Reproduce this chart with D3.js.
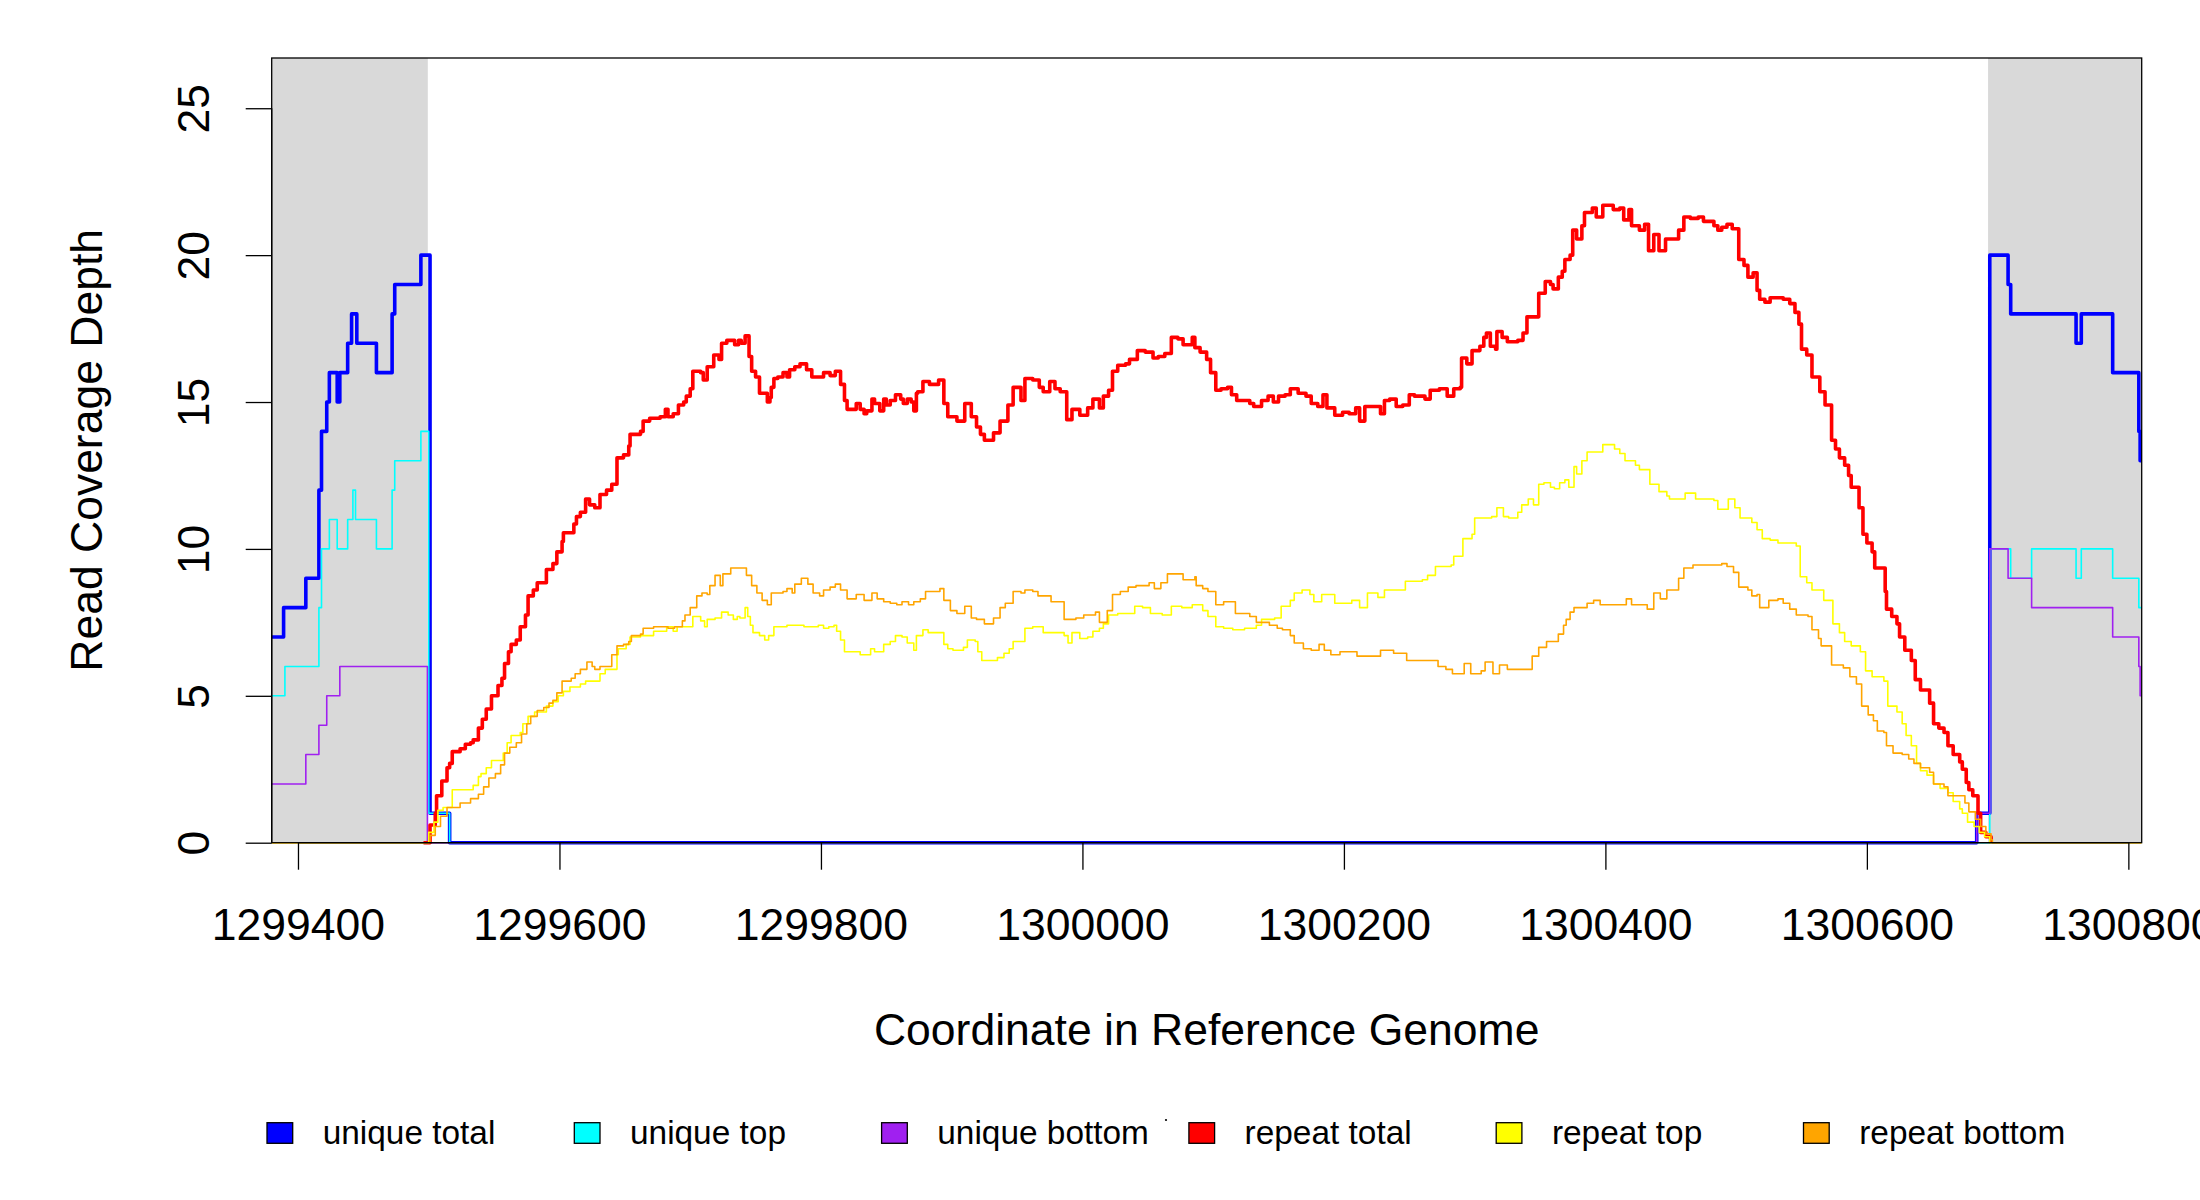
<!DOCTYPE html>
<html>
<head>
<meta charset="utf-8">
<script src="https://cdn.jsdelivr.net/npm/d3@7"></script>
<style>
  html, body { margin: 0; padding: 0; background: #ffffff; }
  svg { display: block; }
  text { font-family: "Liberation Sans", Arial, Helvetica, sans-serif; fill: #000; }
</style>
</head>
<body>
<svg id="chart" width="2200" height="1200"></svg>
<script>
// ---------------- data ----------------
const xTicks = [1299400, 1299600, 1299800, 1300000, 1300200, 1300400, 1300600, 1300800];
const yTicks = [0, 5, 10, 15, 20, 25];
const xDomain = [1299379.9, 1300810.2];
const yDomain = [0, 26.71];
const maskedRegions = [[1299379.9, 1299499.3], [1300692.7, 1300810.2]];

const seriesNames = ["unique total", "unique top", "unique bottom", "repeat total", "repeat top", "repeat bottom"];
const seriesColors = ["#0000FF", "#00FFFF", "#A020F0", "#FF0000", "#FFFF00", "#FFA500"];

const uniqueTotal = [[1299380,7],[1299389,8],[1299406,9],[1299416,12],[1299418,14],[1299422,15],[1299424,16],[1299430,15],[1299432,16],[1299438,17],[1299441,18],[1299445,17],[1299460,16],[1299472,18],[1299474,19],[1299494,20],[1299501,1],[1299516,0],[1300684,1],[1300694,20],[1300708,19],[1300710,18],[1300760,17],[1300764,18],[1300788,16],[1300808,14],[1300809,13],[1300810,13]];

const uniqueTop = [[1299380,5],[1299390,6],[1299416,8],[1299418,10],[1299424,11],[1299430,10],[1299438,11],[1299442,12],[1299444,11],[1299460,10],[1299472,12],[1299474,13],[1299494,14],[1299500,1],[1299516,0],[1300694,10],[1300710,9],[1300726,10],[1300760,9],[1300764,10],[1300788,9],[1300808,8],[1300810,8]];

const uniqueBottom = [[1299380,2],[1299406,3],[1299416,4],[1299422,5],[1299432,6],[1299499,0],[1300684,1],[1300694,10],[1300708,9],[1300726,8],[1300788,7],[1300808,6],[1300809,5],[1300810,5]];

const repeatTotal = [[1299496,0],[1299501,0.6],[1299505,1.0],[1299506,1.6],[1299510,2.1],[1299514,2.55],[1299516,2.7],[1299518,3.1],[1299524,3.2],[1299528,3.35],[1299532,3.4],[1299534,3.5],[1299538,3.9],[1299541,4.2],[1299544,4.55],[1299548,5.0],[1299553,5.35],[1299556,5.6],[1299558,6.1],[1299561,6.5],[1299563,6.75],[1299567,6.9],[1299570,7.35],[1299574,7.75],[1299576,8.4],[1299580,8.6],[1299583,8.85],[1299590,9.3],[1299595,9.5],[1299598,9.9],[1299602,10.25],[1299603,10.55],[1299611,10.85],[1299613,11.1],[1299616,11.25],[1299620,11.7],[1299623,11.5],[1299627,11.4],[1299631,11.85],[1299636,12.0],[1299640,12.2],[1299644,13.1],[1299649,13.2],[1299653,13.5],[1299654,13.9],[1299662,14.0],[1299664,14.35],[1299669,14.45],[1299677,14.5],[1299681,14.75],[1299683,14.5],[1299687,14.6],[1299691,14.9],[1299695,15.0],[1299697,15.2],[1299700,15.45],[1299702,16.05],[1299708,16.0],[1299710,15.75],[1299713,16.2],[1299718,16.6],[1299722,16.45],[1299724,17.0],[1299728,17.1],[1299734,16.95],[1299737,17.1],[1299739,17.0],[1299742,17.25],[1299745,16.55],[1299747,16.05],[1299750,15.85],[1299753,15.3],[1299759,15.0],[1299761,15.15],[1299762,15.5],[1299764,15.8],[1299767,15.85],[1299771,16.0],[1299774,15.85],[1299776,16.1],[1299780,16.2],[1299784,16.3],[1299789,16.1],[1299793,15.85],[1299802,16.0],[1299807,15.9],[1299811,16.05],[1299815,15.6],[1299818,15.05],[1299820,14.75],[1299827,14.95],[1299830,14.75],[1299833,14.6],[1299835,14.7],[1299839,15.1],[1299841,14.95],[1299845,14.7],[1299848,15.1],[1299850,14.9],[1299853,15.05],[1299857,15.25],[1299861,15.1],[1299863,14.95],[1299866,15.1],[1299869,15.0],[1299871,14.7],[1299873,15.3],[1299874,15.35],[1299878,15.7],[1299883,15.6],[1299890,15.75],[1299894,14.95],[1299897,14.5],[1299904,14.35],[1299910,14.95],[1299915,14.5],[1299919,14.15],[1299922,13.9],[1299925,13.7],[1299932,13.95],[1299937,14.35],[1299943,14.9],[1299947,15.5],[1299953,15.05],[1299956,15.8],[1299962,15.75],[1299967,15.5],[1299970,15.35],[1299975,15.7],[1299979,15.45],[1299983,15.35],[1299988,14.4],[1299992,14.75],[1299998,14.55],[1300004,14.8],[1300008,15.1],[1300013,14.8],[1300016,15.2],[1300020,15.4],[1300023,16.05],[1300027,16.25],[1300033,16.3],[1300036,16.45],[1300042,16.75],[1300048,16.7],[1300054,16.5],[1300058,16.55],[1300063,16.65],[1300068,17.2],[1300073,17.15],[1300077,16.95],[1300084,17.2],[1300086,16.85],[1300090,16.7],[1300095,16.45],[1300098,16.0],[1300102,15.4],[1300106,15.45],[1300111,15.5],[1300114,15.25],[1300118,15.05],[1300128,14.95],[1300131,14.85],[1300137,15.05],[1300142,15.2],[1300146,15.0],[1300150,15.2],[1300155,15.25],[1300159,15.45],[1300165,15.3],[1300171,15.2],[1300175,14.95],[1300180,14.85],[1300184,15.25],[1300187,14.8],[1300193,14.55],[1300199,14.65],[1300204,14.6],[1300209,14.8],[1300212,14.35],[1300216,14.85],[1300228,14.6],[1300231,15.05],[1300235,15.1],[1300240,14.85],[1300245,14.9],[1300250,15.25],[1300254,15.2],[1300262,15.1],[1300266,15.4],[1300273,15.45],[1300279,15.2],[1300284,15.45],[1300289,15.5],[1300290,16.5],[1300294,16.3],[1300298,16.75],[1300304,16.9],[1300307,17.2],[1300309,17.35],[1300312,16.9],[1300316,16.8],[1300317,17.4],[1300321,17.2],[1300325,17.05],[1300333,17.1],[1300337,17.35],[1300340,17.9],[1300349,18.7],[1300354,19.1],[1300358,19.0],[1300360,18.85],[1300364,19.25],[1300367,19.45],[1300369,19.85],[1300373,20.0],[1300375,20.85],[1300378,20.55],[1300382,21.0],[1300384,21.45],[1300390,21.6],[1300393,21.3],[1300398,21.7],[1300406,21.55],[1300411,21.6],[1300414,21.2],[1300418,21.55],[1300420,21.0],[1300426,20.85],[1300430,21.05],[1300433,20.15],[1300437,20.7],[1300441,20.15],[1300446,20.55],[1300456,20.85],[1300460,21.3],[1300465,21.25],[1300471,21.3],[1300475,21.15],[1300483,21.0],[1300486,20.85],[1300489,20.95],[1300493,21.05],[1300497,20.9],[1300502,19.85],[1300506,19.65],[1300509,19.25],[1300513,19.4],[1300516,18.8],[1300518,18.5],[1300522,18.4],[1300526,18.55],[1300536,18.5],[1300541,18.35],[1300545,18.05],[1300548,17.65],[1300550,16.8],[1300554,16.6],[1300558,15.85],[1300564,15.35],[1300568,14.9],[1300573,13.7],[1300576,13.4],[1300579,13.1],[1300583,12.85],[1300586,12.5],[1300588,12.1],[1300594,11.4],[1300597,10.5],[1300600,10.2],[1300604,9.9],[1300606,9.35],[1300614,8.55],[1300615,7.95],[1300619,7.7],[1300623,7.45],[1300625,7.0],[1300629,6.55],[1300634,6.2],[1300637,5.55],[1300641,5.2],[1300648,4.75],[1300651,4.05],[1300655,3.9],[1300659,3.75],[1300662,3.3],[1300666,3.0],[1300671,2.75],[1300673,2.5],[1300676,2.05],[1300678,1.8],[1300681,1.6],[1300685,1.0],[1300687,0.35],[1300691,0.2],[1300695,0]];

const repeatTop = [[1299380,0],[1299500,0.35],[1299504,0.7],[1299507,1.1],[1299511,1.2],[1299518,1.8],[1299534,1.95],[1299538,2.25],[1299540,2.35],[1299544,2.55],[1299548,2.8],[1299557,3.05],[1299560,3.4],[1299563,3.65],[1299570,3.75],[1299572,4.05],[1299576,4.3],[1299581,4.45],[1299590,4.65],[1299595,4.8],[1299599,5.0],[1299603,5.15],[1299608,5.3],[1299616,5.4],[1299620,5.5],[1299631,5.75],[1299635,5.9],[1299644,6.4],[1299645,6.6],[1299651,6.75],[1299654,7.0],[1299662,7.05],[1299672,7.2],[1299682,7.35],[1299687,7.2],[1299690,7.35],[1299702,7.7],[1299708,7.55],[1299711,7.35],[1299713,7.6],[1299719,7.65],[1299724,7.85],[1299729,7.75],[1299733,7.6],[1299736,7.7],[1299738,7.65],[1299742,8.0],[1299744,7.7],[1299746,7.4],[1299748,7.15],[1299753,7.05],[1299757,6.9],[1299760,7.05],[1299764,7.35],[1299774,7.4],[1299787,7.35],[1299798,7.4],[1299802,7.3],[1299806,7.35],[1299810,7.4],[1299812,7.2],[1299815,6.9],[1299818,6.5],[1299830,6.4],[1299838,6.6],[1299841,6.5],[1299848,6.75],[1299853,6.85],[1299857,7.05],[1299862,7.0],[1299866,6.8],[1299871,6.55],[1299873,7.05],[1299878,7.25],[1299882,7.15],[1299894,6.75],[1299897,6.6],[1299901,6.55],[1299909,6.65],[1299912,6.9],[1299918,6.85],[1299920,6.5],[1299923,6.2],[1299935,6.3],[1299940,6.45],[1299944,6.6],[1299947,6.85],[1299956,7.3],[1299962,7.35],[1299970,7.15],[1299986,7.05],[1299989,6.8],[1299992,7.15],[1299998,6.95],[1300004,7.0],[1300008,7.2],[1300013,7.3],[1300016,7.45],[1300020,7.75],[1300027,7.8],[1300040,8.05],[1300046,8.0],[1300052,7.8],[1300061,7.75],[1300068,8.05],[1300076,8.0],[1300084,8.1],[1300092,7.9],[1300096,7.7],[1300102,7.35],[1300108,7.3],[1300115,7.25],[1300124,7.3],[1300133,7.4],[1300137,7.6],[1300147,7.65],[1300152,8.05],[1300159,8.25],[1300162,8.5],[1300168,8.6],[1300174,8.45],[1300177,8.2],[1300183,8.45],[1300193,8.15],[1300206,8.25],[1300212,8.0],[1300218,8.5],[1300226,8.35],[1300231,8.6],[1300247,8.9],[1300260,8.95],[1300264,9.1],[1300270,9.4],[1300282,9.45],[1300284,9.75],[1300291,10.35],[1300298,10.5],[1300300,11.05],[1300313,11.1],[1300317,11.4],[1300322,11.1],[1300326,11.05],[1300333,11.25],[1300336,11.5],[1300341,11.7],[1300345,11.5],[1300349,12.2],[1300353,12.25],[1300358,12.1],[1300361,12.05],[1300365,12.25],[1300369,12.35],[1300372,12.1],[1300376,12.8],[1300378,12.55],[1300382,13.0],[1300386,13.3],[1300398,13.55],[1300407,13.4],[1300411,13.25],[1300415,13.0],[1300423,12.85],[1300426,12.7],[1300434,12.2],[1300441,11.95],[1300447,11.8],[1300449,11.7],[1300461,11.9],[1300469,11.7],[1300483,11.65],[1300486,11.35],[1300494,11.7],[1300499,11.4],[1300503,11.05],[1300512,10.9],[1300516,10.65],[1300520,10.35],[1300526,10.3],[1300532,10.2],[1300546,10.1],[1300549,9.05],[1300554,8.85],[1300558,8.6],[1300567,8.25],[1300574,7.45],[1300579,7.15],[1300583,6.85],[1300588,6.7],[1300595,6.5],[1300599,5.85],[1300604,5.65],[1300613,5.5],[1300616,4.65],[1300623,4.45],[1300627,4.05],[1300630,3.65],[1300634,3.3],[1300638,2.7],[1300641,2.45],[1300646,2.3],[1300651,2.0],[1300656,1.85],[1300662,1.7],[1300666,1.4],[1300671,1.15],[1300673,1.0],[1300677,0.7],[1300682,0.55],[1300686,0.35],[1300690,0.2],[1300694,0],[1300810,0]];

const repeatBottom = [[1299380,0],[1299501,0.25],[1299505,0.55],[1299509,0.9],[1299514,1.2],[1299524,1.35],[1299532,1.5],[1299538,1.65],[1299542,1.9],[1299546,2.2],[1299551,2.35],[1299555,2.65],[1299558,3.05],[1299562,3.25],[1299567,3.4],[1299571,3.7],[1299575,4.05],[1299578,4.3],[1299583,4.5],[1299588,4.6],[1299592,4.75],[1299595,4.85],[1299598,5.1],[1299602,5.5],[1299609,5.6],[1299612,5.75],[1299616,5.9],[1299621,6.15],[1299625,6.0],[1299627,5.9],[1299631,6.0],[1299640,6.4],[1299644,6.7],[1299649,6.75],[1299653,6.85],[1299655,7.05],[1299662,7.1],[1299664,7.3],[1299672,7.35],[1299683,7.3],[1299688,7.35],[1299694,7.55],[1299696,7.75],[1299700,8.0],[1299705,8.4],[1299709,8.5],[1299713,8.45],[1299715,8.75],[1299719,9.1],[1299723,8.75],[1299725,9.15],[1299731,9.35],[1299743,9.1],[1299747,8.75],[1299751,8.5],[1299755,8.25],[1299759,8.1],[1299762,8.5],[1299771,8.55],[1299774,8.65],[1299778,8.5],[1299780,8.8],[1299785,9.0],[1299790,8.8],[1299794,8.5],[1299799,8.4],[1299802,8.6],[1299807,8.7],[1299811,8.8],[1299815,8.6],[1299820,8.3],[1299827,8.45],[1299833,8.25],[1299839,8.5],[1299843,8.3],[1299848,8.2],[1299853,8.15],[1299858,8.1],[1299862,8.2],[1299867,8.1],[1299871,8.2],[1299876,8.3],[1299880,8.55],[1299891,8.65],[1299894,8.25],[1299899,7.9],[1299904,7.8],[1299910,8.05],[1299915,7.65],[1299919,7.6],[1299925,7.45],[1299932,7.65],[1299937,8.0],[1299941,8.15],[1299947,8.55],[1299953,8.5],[1299956,8.6],[1299962,8.55],[1299966,8.4],[1299976,8.2],[1299986,7.6],[1299995,7.65],[1300001,7.75],[1300010,7.85],[1300013,7.5],[1300019,7.9],[1300023,8.45],[1300029,8.55],[1300035,8.7],[1300041,8.75],[1300051,8.85],[1300055,8.65],[1300060,8.85],[1300065,9.15],[1300077,8.95],[1300086,9.05],[1300087,8.75],[1300092,8.65],[1300096,8.55],[1300102,8.1],[1300108,8.2],[1300117,7.8],[1300128,7.7],[1300133,7.5],[1300143,7.4],[1300149,7.3],[1300153,7.25],[1300159,7.05],[1300162,6.8],[1300169,6.6],[1300175,6.55],[1300181,6.75],[1300185,6.55],[1300190,6.4],[1300197,6.5],[1300210,6.35],[1300228,6.55],[1300238,6.45],[1300248,6.2],[1300272,6.0],[1300278,5.9],[1300283,5.75],[1300292,6.1],[1300297,5.75],[1300305,5.85],[1300308,6.15],[1300314,5.75],[1300319,6.05],[1300325,5.9],[1300344,6.35],[1300349,6.65],[1300355,6.85],[1300364,7.1],[1300368,7.4],[1300370,7.6],[1300373,7.85],[1300376,8.0],[1300386,8.15],[1300391,8.25],[1300396,8.1],[1300416,8.3],[1300420,8.1],[1300432,7.95],[1300437,8.5],[1300442,8.3],[1300447,8.6],[1300456,9.0],[1300460,9.35],[1300467,9.45],[1300489,9.5],[1300493,9.4],[1300498,9.2],[1300502,8.7],[1300509,8.6],[1300512,8.4],[1300516,8.45],[1300518,8.0],[1300525,8.25],[1300532,8.3],[1300536,8.15],[1300541,7.95],[1300546,7.75],[1300555,7.7],[1300558,7.25],[1300563,6.95],[1300565,6.7],[1300573,6.05],[1300582,5.95],[1300587,5.65],[1300592,5.4],[1300596,4.65],[1300601,4.35],[1300605,4.15],[1300608,3.8],[1300613,3.75],[1300615,3.3],[1300620,3.05],[1300627,3.0],[1300632,2.85],[1300636,2.7],[1300641,2.55],[1300648,2.4],[1300651,2.0],[1300659,1.9],[1300662,1.6],[1300675,1.35],[1300678,1.05],[1300683,0.8],[1300687,0.55],[1300691,0.3],[1300695,0.1],[1300696,0],[1300810,0]];

const seriesData = [uniqueTotal, uniqueTop, uniqueBottom, repeatTotal, repeatTop, repeatBottom];
const seriesWidths = [3.6, 1.6, 1.6, 3.6, 1.6, 1.6];

// ---------------- layout ----------------
const plot = { left: 271.7, right: 2141.7, top: 58, bottom: 842.7 };
const svg = d3.select("#chart");
svg.append("rect").attr("width", 2200).attr("height", 1200).attr("fill", "#ffffff");

const x = d3.scaleLinear().domain(xDomain).range([plot.left, plot.right]);
const y = d3.scaleLinear().domain(yDomain).range([plot.bottom, plot.top]);

// grey masked regions
svg.append("g").selectAll("rect").data(maskedRegions).join("rect")
  .attr("x", d => x(d[0]))
  .attr("y", plot.top)
  .attr("width", d => x(d[1]) - x(d[0]))
  .attr("height", plot.bottom - plot.top)
  .attr("fill", "#D9D9D9");

// coverage step lines
const line = d3.line().curve(d3.curveStepAfter).x(d => x(d[0])).y(d => y(d[1]));
svg.append("g").selectAll("path").data(seriesData).join("path")
  .attr("d", d => line(d))
  .attr("fill", "none")
  .attr("stroke", (d, i) => seriesColors[i])
  .attr("stroke-width", (d, i) => seriesWidths[i])
  .attr("stroke-linejoin", "round")
  .attr("stroke-linecap", "butt");

// axes
const fs = 44.5;
const xAxis = d3.axisBottom(x).tickValues(xTicks).tickFormat(d3.format("d")).tickSize(27).tickSizeOuter(0);
const gx = svg.append("g").attr("transform", `translate(0,${plot.bottom})`).call(xAxis);
gx.select(".domain").attr("d", `M${x(xTicks[0])},0H${x(xTicks[xTicks.length-1])}`).attr("stroke", "#000").attr("stroke-width", 1.3);
gx.selectAll(".tick line").attr("stroke", "#000").attr("stroke-width", 1.3);
gx.selectAll(".tick text").attr("y", 97.5).attr("dy", null)
  .style("font-size", fs + "px").style("font-family", '"Liberation Sans", Arial, sans-serif').attr("fill", "#000");

const yAxis = d3.axisLeft(y).tickValues(yTicks).tickFormat(d3.format("d")).tickSize(26).tickSizeOuter(0);
const gy = svg.append("g").attr("transform", `translate(${plot.left},0)`).call(yAxis);
gy.select(".domain").attr("d", `M0,${y(yTicks[0])}V${y(yTicks[yTicks.length-1])}`).attr("stroke", "#000").attr("stroke-width", 1.3);
gy.selectAll(".tick line").attr("stroke", "#000").attr("stroke-width", 1.3);
gy.selectAll(".tick text")
  .attr("transform", "rotate(-90)")
  .attr("x", 0).attr("y", -62.4).attr("dy", null)
  .attr("text-anchor", "middle")
  .style("font-size", fs + "px").style("font-family", '"Liberation Sans", Arial, sans-serif').attr("fill", "#000");

// plot frame
svg.append("rect")
  .attr("x", plot.left).attr("y", plot.top)
  .attr("width", plot.right - plot.left).attr("height", plot.bottom - plot.top)
  .attr("fill", "none").attr("stroke", "#000").attr("stroke-width", 1.3);

// axis titles
svg.append("text")
  .attr("x", (plot.left + plot.right) / 2).attr("y", 1045)
  .attr("text-anchor", "middle").style("font-size", fs + "px")
  .text("Coordinate in Reference Genome");
svg.append("text")
  .attr("transform", `translate(101.7,${(plot.top + plot.bottom) / 2}) rotate(-90)`)
  .attr("text-anchor", "middle").style("font-size", fs + "px")
  .text("Read Coverage Depth");

// legend
const lfs = 33.4;
const lg = svg.append("g").selectAll("g").data(seriesNames).join("g")
  .attr("transform", (d, i) => `translate(${267 + i * 307.3},0)`);
lg.append("rect")
  .attr("x", 0).attr("y", 1122.7).attr("width", 25.7).attr("height", 20.6)
  .attr("fill", (d, i) => seriesColors[i]).attr("stroke", "#000").attr("stroke-width", 1.3);
lg.append("text")
  .attr("x", 55.7).attr("y", 1144.3)
  .style("font-size", lfs + "px")
  .text(d => d);

// small stray mark present in the original legend area
svg.append("circle").attr("cx", 1166).attr("cy", 1120).attr("r", 1.1).attr("fill", "#000");
</script>
</body>
</html>
